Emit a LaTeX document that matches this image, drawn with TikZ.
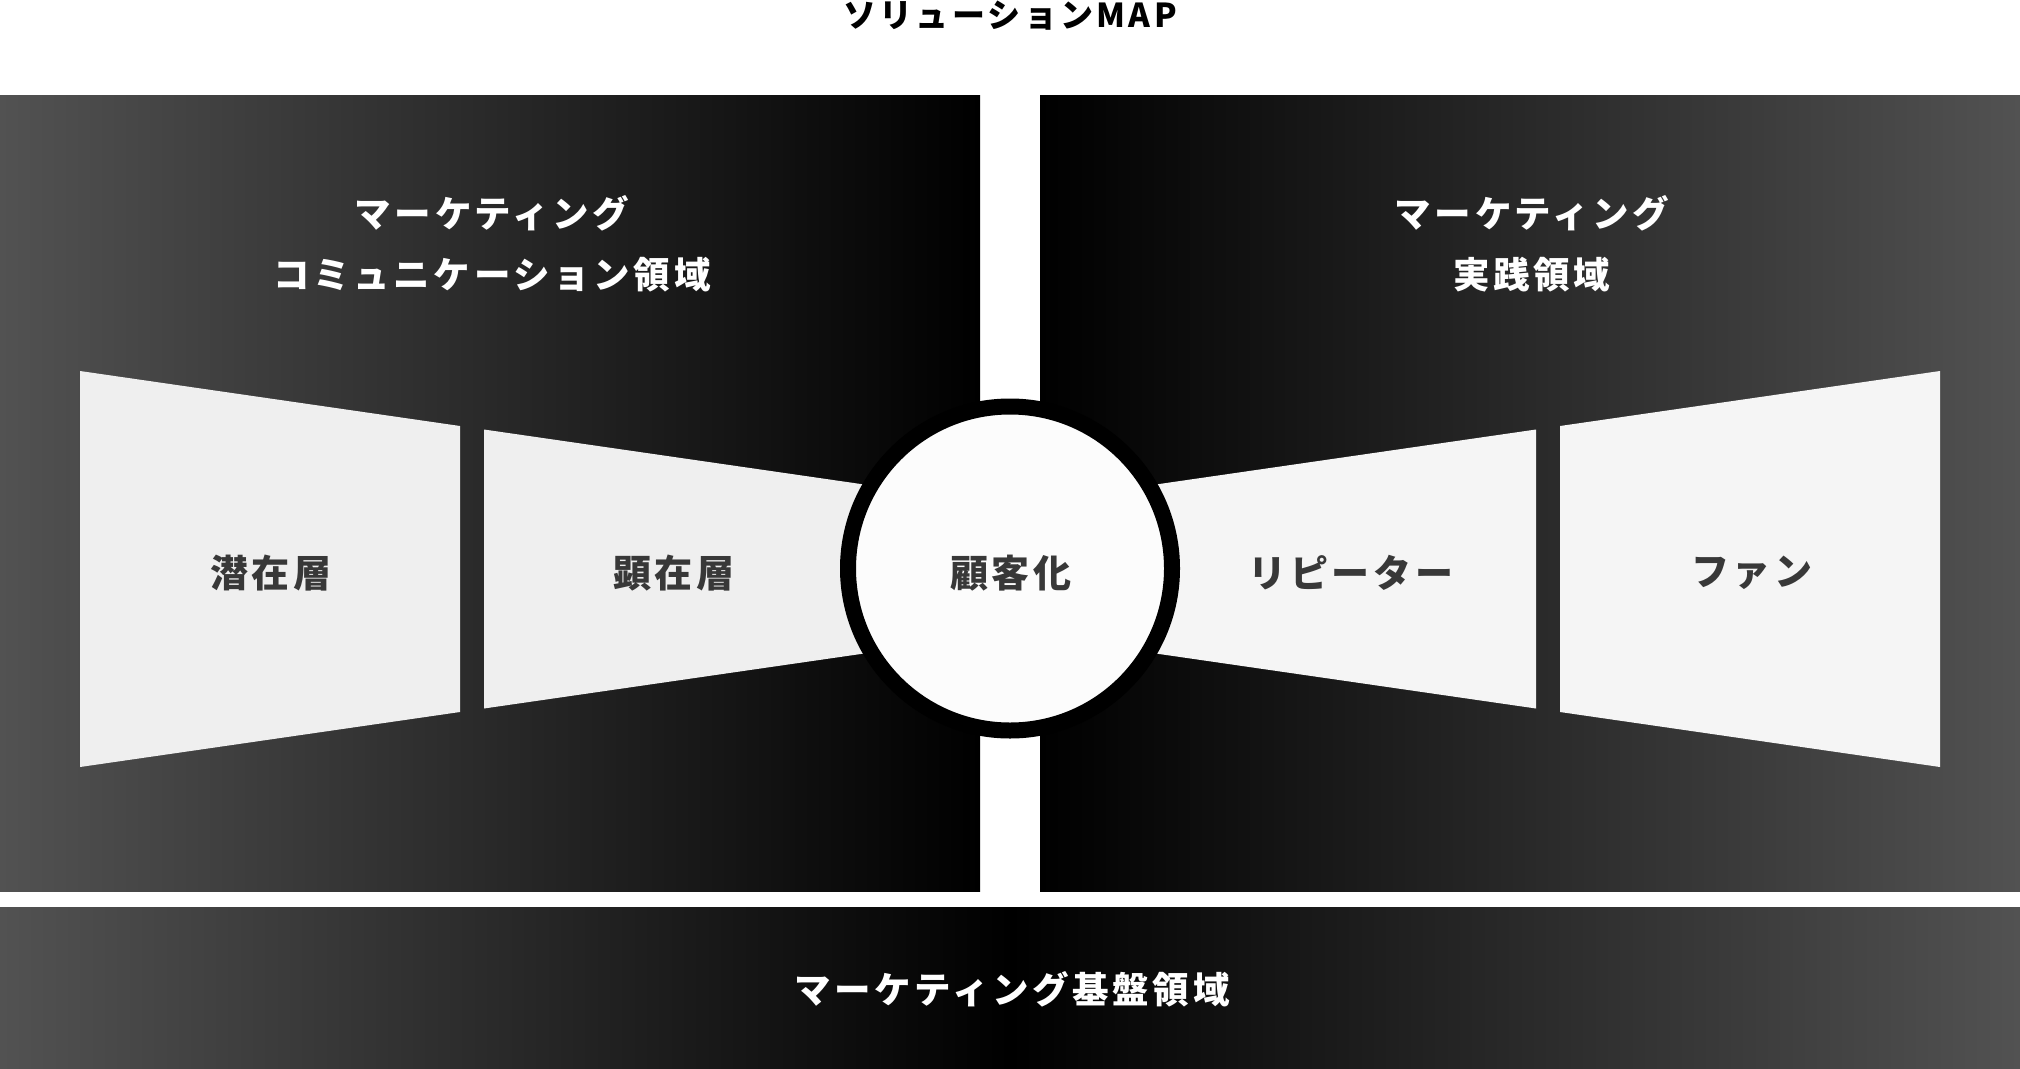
\documentclass[tikz,border=0pt]{standalone}
\usepackage{fontspec}
\newfontfamily\jp{Noto Sans CJK JP}[LetterSpace=10]
\definecolor{panelgray}{RGB}{82,82,82}
\definecolor{layerL}{RGB}{239,239,239}
\definecolor{layerR}{RGB}{245,245,245}
\definecolor{hubfill}{RGB}{252,252,252}
\definecolor{layertext}{RGB}{56,56,56}
\begin{document}
\begin{tikzpicture}[x=1pt,y=-1pt,
  heading/.style={text=white, font=\jp\bfseries\fontsize{36.5}{61}\selectfont, align=center, inner sep=0pt},
  layer/.style={text=layertext, font=\jp\bfseries\fontsize{38}{44}\selectfont, inner sep=0pt},
  titletext/.style={text=black, font=\jp\bfseries\fontsize{33}{40}\selectfont, inner sep=0pt},
  hub/.style={circle, draw=black, line width=16pt, fill=hubfill, minimum size=324pt, inner sep=0pt, outer sep=0pt}
]
\useasboundingbox (0,0) rectangle (2020,1068);
\fill[white] (0,0) rectangle (2020,1068);
% panels
\shade[left color=panelgray, right color=black] (0,95) rectangle (980,891);
\shade[left color=black, right color=panelgray] (1040,95) rectangle (2020,891);
\shade[left color=panelgray, right color=panelgray, middle color=black] (0,907) rectangle (2020,1068);
% layers
\fill[layerL] (80,371) -- (460,426) -- (460,712) -- (80,767) -- cycle;
\fill[layerL] (484,429.5) -- (1010,505.6) -- (1010,632.4) -- (484,708.5) -- cycle;
\fill[layerR] (1940,371) -- (1560,426) -- (1560,712) -- (1940,767) -- cycle;
\fill[layerR] (1536,429.5) -- (1010,505.6) -- (1010,632.4) -- (1536,708.5) -- cycle;
% hub
\node[hub] (hub) at (1010,568.5) {};
% texts
\node[titletext] (title) at (1010,16) {ソリューションMAP};
\node[heading] (hl) at (492,244) {マーケティング\\コミュニケーション領域};
\node[heading] (hr) at (1532,244) {マーケティング\\実践領域};
\node[heading] (hb) at (1012,989) {マーケティング基盤領域};
\node[layer] (l1) at (271,573) {潜在層};
\node[layer] (l2) at (674,573) {顕在層};
\node[layer] (hc) at (1011,573) {顧客化};
\node[layer] (r1) at (1351,573) {リピーター};
\node[layer] (r2) at (1752,573) {ファン};
\end{tikzpicture}
\end{document}
